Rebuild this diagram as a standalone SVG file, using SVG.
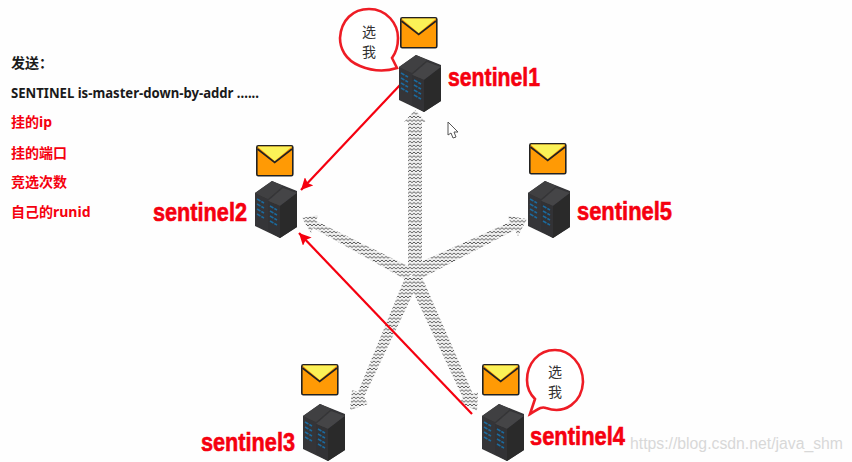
<svg xmlns="http://www.w3.org/2000/svg" width="852" height="462" viewBox="0 0 852 462">
<style>
.name{font-family:"Liberation Sans","Noto Sans CJK SC",sans-serif;font-weight:bold;font-size:26px;fill:#f5000f;stroke:#f5000f;stroke-width:.6}
.note{font-family:"Noto Sans","Noto Sans CJK SC",sans-serif;font-weight:bold;font-size:14px}
.vote{font-family:"Noto Sans CJK SC",sans-serif;font-size:14px;fill:#333}
.bubble{fill:#fff;stroke:#ee1c25;stroke-width:2.6}
.red{stroke:#f5000f;stroke-width:2.2;fill:none;marker-end:url(#rh)}
.band{fill:url(#zig)}
</style>
<defs>
<filter id="soft" x="-5%" y="-5%" width="110%" height="110%"><feGaussianBlur stdDeviation="0.35"/></filter>
<pattern id="zig" width="4" height="3.6" patternUnits="userSpaceOnUse">
<rect width="4" height="3.6" fill="#f0f0f0"/>
<path d="M0 2.6L2 0.9L4 2.6" fill="none" stroke="#4a4a4a" stroke-width="0.9"/>
</pattern>
<marker id="rh" markerUnits="userSpaceOnUse" markerWidth="12" markerHeight="12" refX="10" refY="5" orient="auto" viewBox="0 0 10 10"><path d="M0 0L10 5L0 10L2 5Z" fill="#f5000f"/></marker>
<g id="env">
<rect x="0.8" y="0.8" width="36" height="30" rx="1.5" fill="#ff9a05" stroke="#222" stroke-width="1.6"/>
<path d="M1.5 1.5H36L18.7 16Z" fill="#fbf257" stroke="none"/>
<path d="M1.5 4L18.7 17.5L36 4" fill="none" stroke="#222" stroke-width="1.6"/>
</g>
<g id="srv" filter="url(#soft)">
<path d="M0 12L17 0L42 10V46L25 57L0 45Z" fill="#353537"/>
<path d="M0 12L17 0L28 5L13 18Z" fill="#414143"/>
<path d="M13 20L28 7L42 12L25 25Z" fill="#454547"/>
<path d="M25 25L42 12V46L25 57Z" fill="#2a2a2c"/>
<path d="M13 20L25 25V57L13 50Z" fill="#323234"/>
<path d="M2 18l7 4M2 23l7 4M2 28l7 4M2 33l7 4M15 25l7 4M15 30l7 4M15 35l7 4M15 40l7 4" stroke="#1c6a9e" stroke-width="1.5" stroke-dasharray="4 1" fill="none"/>
</g>
</defs>
<rect width="852" height="462" fill="#fefefe"/>
<g id="connectors">
<g filter="url(#soft)">
<path class="band" d="M408 275V122L404 122L415 110L426 122L422 122V275Z"/>
<path class="band" d="M412 268L316 221L318 215L302 218L311 233L313 228L408 281Z"/>
<path class="band" d="M407 268L510 222L508 216L527 219L518 236L515 230L416 281Z"/>
<path class="band" d="M406 275L358 392L352 390L350 410L368 404L364 397L420 279Z"/>
<path class="band" d="M407 279L463 398L459 402L477 411L478 392L473 394L421 275Z"/>
</g>
<path class="red" d="M400 85L301 190"/>
<path class="red" d="M472 414L299 233"/>
</g>
<g id="note-text" class="note">
<text x="11" y="68" fill="#1a1a1a">发送：</text>
<text x="11" y="98" fill="#1a1a1a" textLength="248" lengthAdjust="spacingAndGlyphs">SENTINEL is-master-down-by-addr ......</text>
<text x="11" y="127" fill="#f5000f">挂的ip</text>
<text x="11" y="158" fill="#f5000f">挂的端口</text>
<text x="11" y="187" fill="#f5000f">竞选次数</text>
<text x="11" y="217" fill="#f5000f">自己的runid</text>
</g>
<g id="sentinel1">
<path class="bubble" d="M397 68C385 72 372 71 360 66C345 60 340 48 340 38C341 20 353 9 369 9C387 9 398 24 398 38C398 47 395 54 392 58Z"/>
<text class="vote" x="362" y="37">选</text><text class="vote" x="362" y="57">我</text>
<use href="#env" x="400" y="17"/>
<use href="#srv" x="399" y="55"/>
<text class="name" x="448" y="86" textLength="92" lengthAdjust="spacingAndGlyphs">sentinel1</text>
</g>
<g id="sentinel2">
<use href="#env" x="256" y="145"/>
<use href="#srv" x="255" y="181"/>
<text class="name" x="153" y="221" textLength="94" lengthAdjust="spacingAndGlyphs">sentinel2</text>
</g>
<g id="sentinel3">
<use href="#env" x="301" y="364"/>
<use href="#srv" x="303" y="404"/>
<text class="name" x="201" y="451" textLength="94" lengthAdjust="spacingAndGlyphs">sentinel3</text>
</g>
<g id="sentinel4">
<path class="bubble" d="M530 414C537 410 541 406 546 408C565 415 582 402 583 382C583 364 570 350 555 350C538 350 527 364 527 380C527 388 531 395 535 399Z"/>
<text class="vote" x="548" y="377">选</text><text class="vote" x="548" y="397">我</text>
<use href="#env" x="482" y="364"/>
<use href="#srv" x="482" y="404"/>
<text class="name" x="530" y="445" textLength="95" lengthAdjust="spacingAndGlyphs">sentinel4</text>
</g>
<g id="sentinel5">
<use href="#env" x="529" y="143"/>
<use href="#srv" x="528" y="181"/>
<text class="name" x="577" y="220" textLength="95" lengthAdjust="spacingAndGlyphs">sentinel5</text>
</g>
<path id="cursor" d="M448 122V135L451 133L453 138L456 137L454 132L458 132Z" fill="#fff" stroke="#555"/>
<text id="watermark" x="630" y="449" font-family="Liberation Sans,sans-serif" font-size="16" fill="#d8d8d8" textLength="213" lengthAdjust="spacingAndGlyphs">https://blog.csdn.net/java_shm</text>
</svg>
